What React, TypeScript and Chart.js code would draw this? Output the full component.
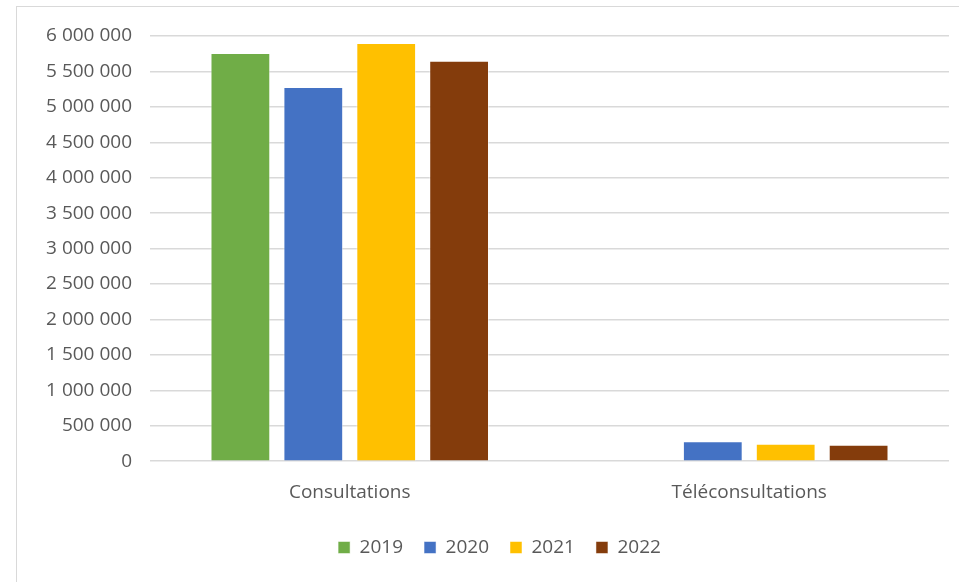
import React, { useEffect, useRef } from "react";
import { Chart, registerables } from "chart.js";

Chart.register(...registerables);

const categories = ["Consultations", "Téléconsultations"];
const years = ["2019", "2020", "2021", "2022"];
const values2019 = [5760000, null];
const values2020 = [5280000, 282000];
const values2021 = [5900000, 247000];
const values2022 = [5650000, 233000];
const colors = ["#70AD47", "#4472C4", "#FFC000", "#843C0C"];

const fmt = (v: number) => String(v).replace(/\B(?=(\d{3})+(?!\d))/g, " ");

const legendShift = {
  id: "legendShift",
  beforeDraw(chart: any) {
    const lg = chart.legend;
    if (lg && !lg._shifted) {
      lg.left += 15;
      lg.right += 15;
      lg._shifted = true;
    }
  },
};

export default function App() {
  const ref = useRef<HTMLCanvasElement>(null);
  useEffect(() => {
    document.body.style.margin = "0";
    const series = [values2019, values2020, values2021, values2022];
    const font = { family: "'Open Sans', 'Liberation Sans', sans-serif", size: 19 };
    const chart = new Chart(ref.current!, {
      type: "bar",
      data: {
        labels: categories,
        datasets: series.map((s, i) => ({
          label: years[i],
          data: s,
          backgroundColor: colors[i],
          borderColor: "rgba(255,255,255,0.5)",
          borderWidth: 1,
          categoryPercentage: 0.73,
          barPercentage: 0.82,
        })),
      },
      plugins: [legendShift],
      options: {
        animation: false,
        responsive: false,
        layout: { padding: { left: 20, right: 10, top: 36, bottom: 15 } },
        plugins: {
          legend: {
            position: "bottom",
            labels: {
              boxWidth: 12,
              boxHeight: 12,
              color: "#595959",
              font,
              padding: 21,
            },
          },
          tooltip: { enabled: false },
        },
        scales: {
          x: {
            grid: { display: false, drawTicks: false },
            border: { display: false },
            ticks: { color: "#595959", font, padding: 20 },
            afterFit: (s: any) => {
              s.height -= 7;
            },
          },
          y: {
            min: 0,
            max: 6000000,
            border: { display: false },
            grid: { color: "#d9d9d9", lineWidth: 1.5, drawTicks: false },
            ticks: {
              stepSize: 500000,
              color: "#595959",
              font,
              padding: 18,
              callback: (v: any) => fmt(Number(v)),
            },
            afterFit: (s: any) => {
              s.width = 130;
            },
          },
        },
      },
    });
    return () => chart.destroy();
  }, []);
  return (
    <div style={{ position: "relative", width: 959, height: 582, background: "#fff" }}>
      <canvas ref={ref} width={959} height={582} style={{ position: "absolute", left: 0, top: 0 }} />
      <div
        style={{
          position: "absolute",
          left: 16,
          top: 6,
          width: 959,
          height: 600,
          border: "1px solid #d9d9d9",
          pointerEvents: "none",
        }}
      />
    </div>
  );
}
